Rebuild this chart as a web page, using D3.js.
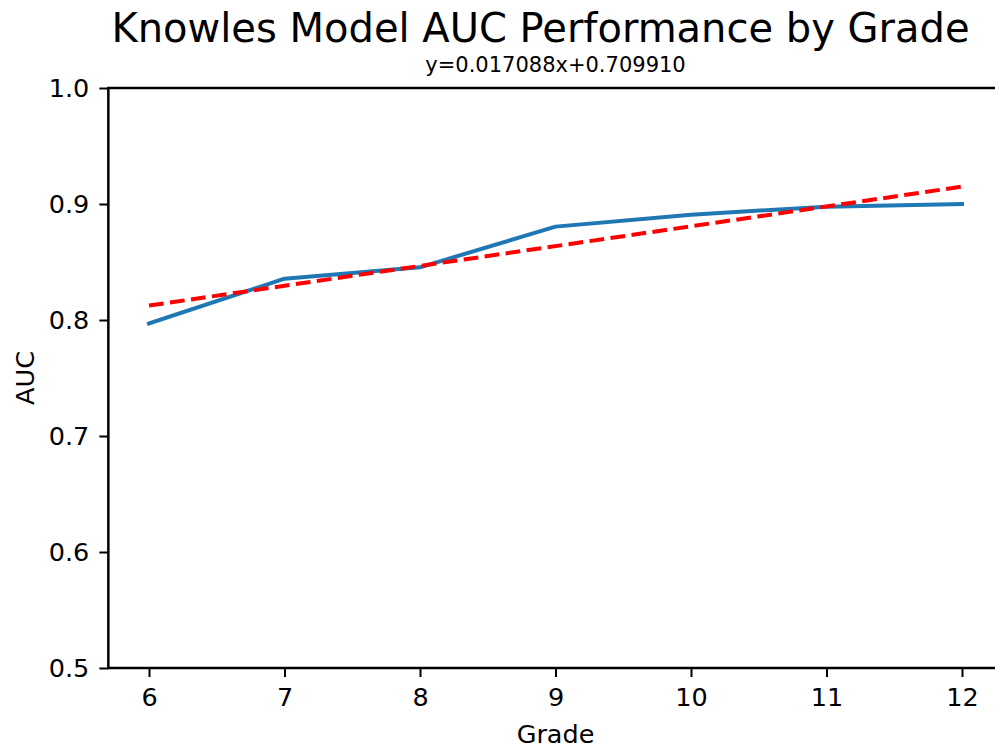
<!DOCTYPE html>
<html>
<head>
<meta charset="utf-8">
<script src="https://cdn.jsdelivr.net/npm/d3@7"></script>
<style>
  html, body { margin: 0; padding: 0; background: #fff; overflow: hidden; }
  svg { display: block; font-family: "DejaVu Sans", sans-serif; }
</style>
</head>
<body>
<svg id="chart" width="995" height="748"></svg>
<script>
// AUC per grade
const grades = [6, 7, 8, 9, 10, 11, 12];
const auc = [0.7970, 0.8356, 0.8454, 0.8805, 0.8908, 0.8977, 0.9000];

// Linear fit coefficients (slope, intercept)
const fitSlope = 0.017088;
const fitIntercept = 0.709910;

const yTicks = [0.5, 0.6, 0.7, 0.8, 0.9, 1.0];
const xTicks = [6, 7, 8, 9, 10, 11, 12];

const svg = d3.select("#chart");

const plot = { left: 108.35, right: 1002.65, top: 88, bottom: 668 };

const x = d3.scaleLinear().domain([5.7, 12.3]).range([plot.left, plot.right]);
const y = d3.scaleLinear().domain([0.5, 1.0]).range([plot.bottom, plot.top]);

// Axes
const xAxis = d3.axisBottom(x).tickValues(xTicks).tickFormat(d3.format("d")).tickSize(9).tickPadding(11);
const yAxis = d3.axisLeft(y).tickValues(yTicks).tickFormat(d3.format(".1f")).tickSize(9).tickPadding(10);

const gx = svg.append("g").attr("transform", `translate(0,${plot.bottom})`).call(xAxis);
const gy = svg.append("g").attr("transform", `translate(${plot.left},0)`).call(yAxis);

[gx, gy].forEach(g => {
  g.select(".domain").remove();
  g.selectAll(".tick line").attr("stroke", "#000").attr("stroke-width", 2);
  g.selectAll(".tick text")
    .attr("fill", "#000")
    .style("font-family", "DejaVu Sans, sans-serif")
    .style("font-size", "25.5px");
});

// Fit line from the equation
const fitPts = [grades[0], grades[grades.length - 1]].map(g => [g, fitSlope * g + fitIntercept]);

// Data line
const line = d3.line().x(d => x(d[0])).y(d => y(d[1]));
svg.append("path")
  .datum(grades.map((g, i) => [g, auc[i]]))
  .attr("d", line)
  .attr("fill", "none")
  .attr("stroke", "#1f77b4")
  .attr("stroke-width", 4)
  .attr("stroke-linejoin", "round")
  .attr("stroke-linecap", "square");

svg.append("path")
  .datum(fitPts)
  .attr("d", line)
  .attr("fill", "none")
  .attr("stroke", "#ff0000")
  .attr("stroke-width", 4)
  .attr("stroke-dasharray", "14.8 6.4");

// Spines
svg.append("rect")
  .attr("x", plot.left).attr("y", plot.top)
  .attr("width", plot.right - plot.left).attr("height", plot.bottom - plot.top)
  .attr("fill", "none").attr("stroke", "#000").attr("stroke-width", 2.5);

// Titles and labels
svg.append("text")
  .attr("x", 540.5).attr("y", 41.7)
  .attr("text-anchor", "middle")
  .style("font-size", "40px")
  .text("Knowles Model AUC Performance by Grade");

svg.append("text")
  .attr("x", (plot.left + plot.right) / 2).attr("y", 71.5)
  .attr("text-anchor", "middle")
  .style("font-size", "21px")
  .text(`y=${fitSlope.toFixed(6)}x+${fitIntercept.toFixed(6)}`);

svg.append("text")
  .attr("x", (plot.left + plot.right) / 2).attr("y", 743)
  .attr("text-anchor", "middle")
  .style("font-size", "25.5px")
  .text("Grade");

svg.append("text")
  .attr("transform", `translate(33.5,${(plot.top + plot.bottom) / 2}) rotate(-90)`)
  .attr("text-anchor", "middle")
  .style("font-size", "25.5px")
  .text("AUC");
</script>
</body>
</html>
